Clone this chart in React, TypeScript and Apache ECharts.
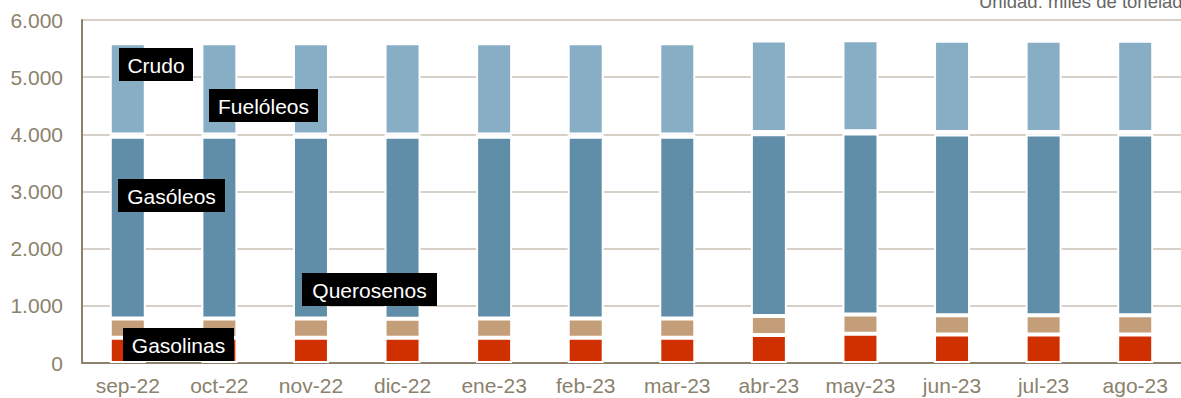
import React, { useEffect, useRef } from "react";
import * as echarts from "echarts";

const categories = ["sep-22", "oct-22", "nov-22", "dic-22", "ene-23", "feb-23", "mar-23", "abr-23", "may-23", "jun-23", "jul-23", "ago-23"];
const gasolinas = [443, 440, 443, 443, 443, 443, 443, 490, 513, 499, 499, 499];
const querosenos = [335, 338, 335, 333, 335, 335, 335, 333, 336, 338, 338, 338];
const gasoleos = [3181, 3181, 3181, 3183, 3181, 3181, 3181, 3178, 3164, 3162, 3162, 3162];
const fueloleos = [40, 40, 40, 40, 40, 40, 40, 40, 40, 40, 40, 40];
const crudo = [1596, 1596, 1596, 1596, 1596, 1596, 1596, 1601, 1594, 1596, 1596, 1596];
const yTicks = [0, 1000, 2000, 3000, 4000, 5000, 6000];
const unitText = "Unidad: miles de toneladas";
const labels = [
  { text: "Crudo", x: 119, y: 48, w: 74, h: 33 },
  { text: "Fuelóleos", x: 209, y: 89, w: 109, h: 33 },
  { text: "Gasóleos", x: 118, y: 179, w: 107, h: 33 },
  { text: "Querosenos", x: 302, y: 273, w: 135, h: 33 },
  { text: "Gasolinas", x: 123, y: 328, w: 111, h: 33 },
];

const axisColor = "#8b816c";
const font = "Arial, 'Liberation Sans', sans-serif";

export default function App() {
  const ref = useRef<HTMLDivElement>(null);
  useEffect(() => {
    if (!ref.current) return;
    const chart = echarts.init(ref.current, null, { renderer: "svg" });
    const mk = (name: string, data: number[], color: string) => ({
      name,
      type: "bar",
      stack: "total",
      data,
      barWidth: 36,
      itemStyle: { color, borderColor: "#ffffff", borderWidth: 2 },
    });
    const graphics: any[] = [];
    labels.forEach((l) => {
      graphics.push({
        type: "rect",
        shape: { x: l.x, y: l.y, width: l.w, height: l.h },
        style: { fill: "#000000" },
        z: 100,
      });
      graphics.push({
        type: "text",
        x: l.x + l.w / 2,
        y: l.y + l.h / 2 + 1,
        style: {
          text: l.text,
          fill: "#ffffff",
          font: `21px ${font}`,
          textAlign: "center",
          textVerticalAlign: "middle",
        },
        z: 101,
      });
    });
    graphics.push({
      type: "text",
      x: 979,
      y: 11,
      style: {
        text: unitText,
        fill: "#666666",
        font: `18.5px ${font}`,
        textAlign: "left",
        textVerticalAlign: "bottom",
      },
      z: 101,
    });
    chart.setOption({
      animation: false,
      grid: { left: 82, top: 20, width: 1100, bottom: 35, containLabel: false },
      xAxis: {
        type: "category",
        data: categories,
        axisLine: { show: true, lineStyle: { color: axisColor, width: 2 } },
        axisTick: { show: false },
        axisLabel: { color: axisColor, fontSize: 21, fontFamily: font, margin: 12 },
      },
      yAxis: {
        type: "value",
        min: yTicks[0],
        max: yTicks[yTicks.length - 1],
        interval: 1000,
        axisLine: { show: true, lineStyle: { color: axisColor, width: 2 } },
        axisTick: { show: false },
        axisLabel: {
          color: axisColor,
          fontSize: 21,
          fontFamily: font,
          margin: 19,
          formatter: (v: number) => v.toString().replace(/\B(?=(\d{3})+(?!\d))/g, "."),
        },
        splitLine: { show: true, lineStyle: { color: "#c9c1b7", width: 1.5 } },
      },
      series: [
        mk("Gasolinas", gasolinas, "#d03000"),
        mk("Querosenos", querosenos, "#c49e78"),
        mk("Gasóleos", gasoleos, "#608ea9"),
        mk("Fuelóleos", fueloleos, "#88aec6"),
        mk("Crudo", crudo, "#88aec6"),
      ],
      graphic: graphics,
    });
    return () => chart.dispose();
  }, []);
  return (
    <div
      ref={ref}
      style={{ position: "fixed", left: 0, top: 0, width: 1181, height: 398, background: "#fff" }}
    />
  );
}
